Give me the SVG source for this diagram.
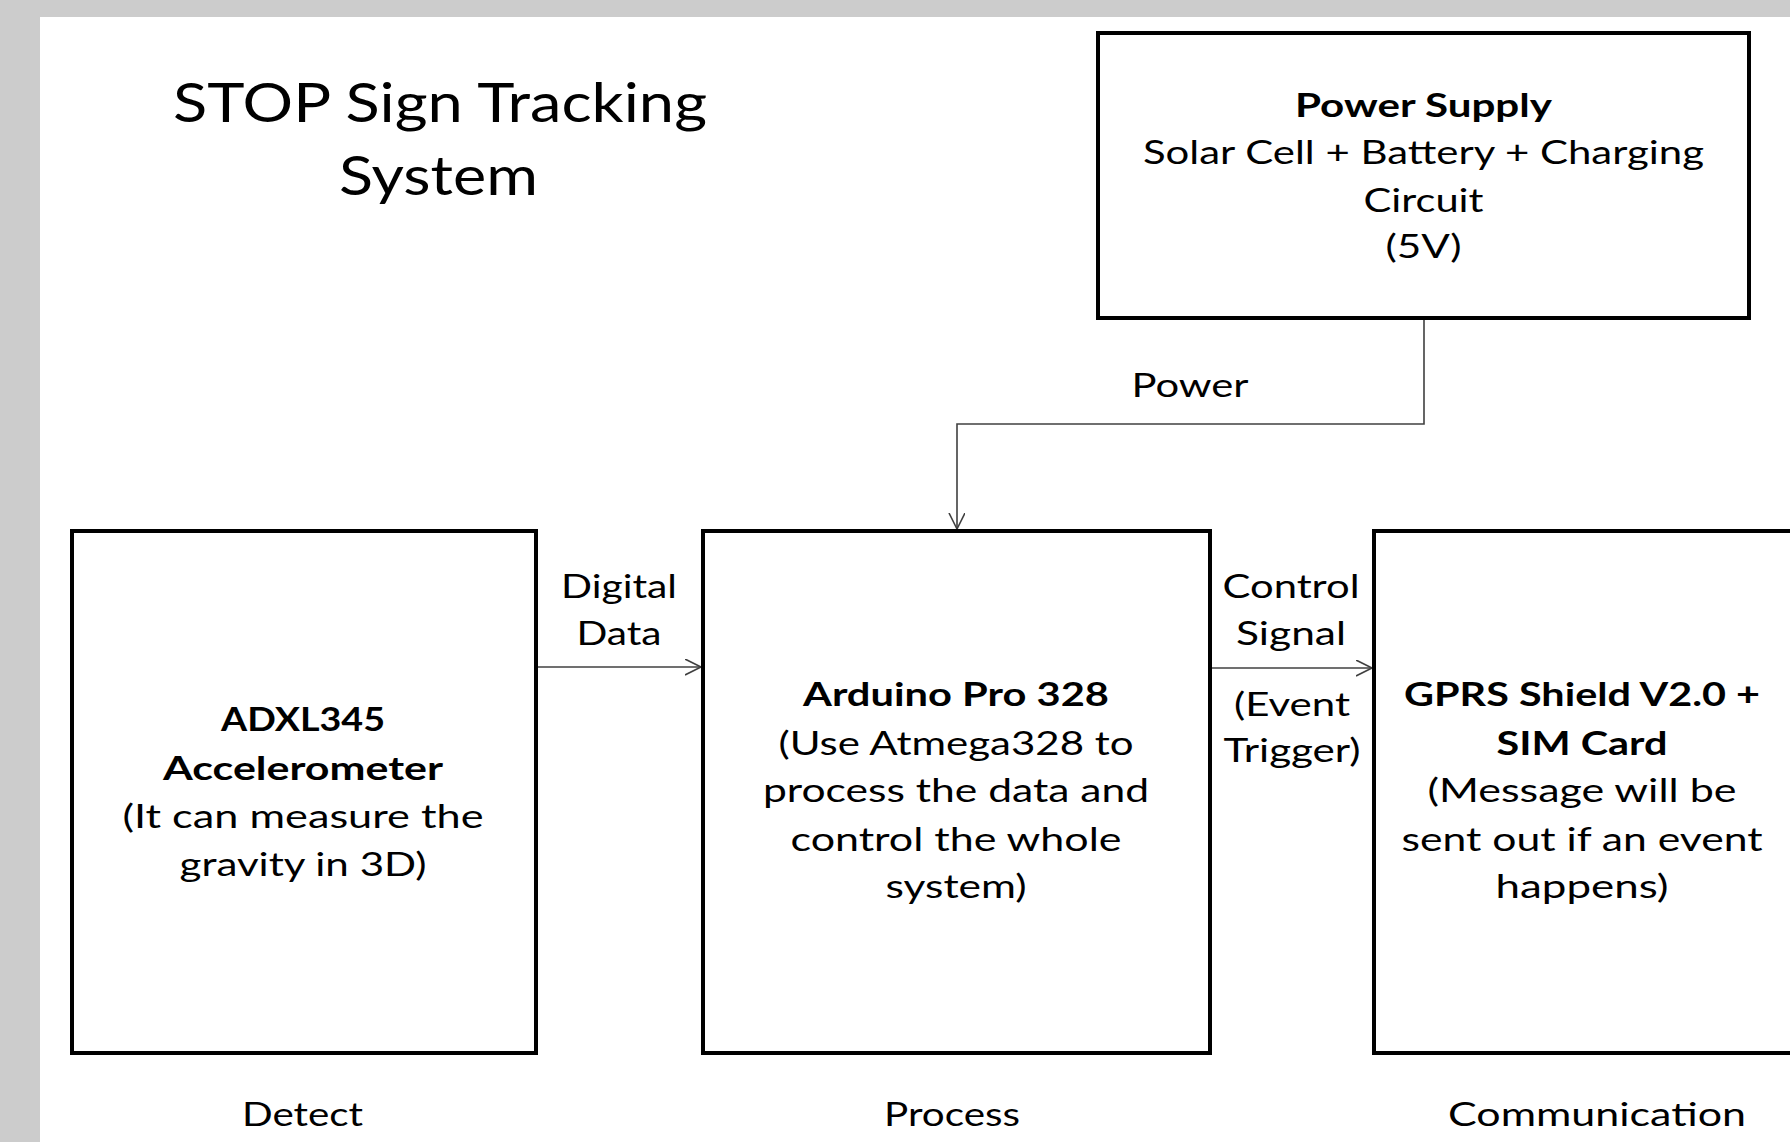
<svg xmlns="http://www.w3.org/2000/svg" width="1790" height="1142" viewBox="0 0 1790 1142">
<style>
  text { font-family: Lato, "Liberation Sans", sans-serif; fill: #000; text-anchor: middle; font-size: 33px; }
  .t { font-size: 54px; }
  .b { font-weight: bold; }
  .box { fill: #fff; stroke: #000; stroke-width: 4; }
  .conn { fill: none; stroke: #404040; stroke-width: 1.6; }
</style>
<defs>
  <marker id="arr" markerUnits="userSpaceOnUse" markerWidth="20" markerHeight="20" refX="16" refY="8" orient="auto">
    <path d="M0,0 L16,8 L0,16" fill="none" stroke="#404040" stroke-width="1.6"/>
  </marker>
</defs>
<rect x="0" y="0" width="1790" height="1142" fill="#cccccc"/>
<rect x="40" y="17" width="1750" height="1125" fill="#ffffff"/>

<g id="title">
  <text class="t" x="440" y="122" textLength="534" lengthAdjust="spacingAndGlyphs">STOP Sign Tracking</text>
  <text class="t" x="438.5" y="195" textLength="199" lengthAdjust="spacingAndGlyphs">System</text>
</g>

<g id="connectors">
  <path class="conn" d="M1424,320 V424 H957 V529" marker-end="url(#arr)"/>
  <path class="conn" d="M538,667 H701" marker-end="url(#arr)"/>
  <path class="conn" d="M1212,668 H1372" marker-end="url(#arr)"/>
  <text x="1190" y="397" textLength="117" lengthAdjust="spacingAndGlyphs">Power</text>
  <text x="619" y="598" textLength="116" lengthAdjust="spacingAndGlyphs">Digital</text>
  <text x="619" y="645" textLength="85" lengthAdjust="spacingAndGlyphs">Data</text>
  <text x="1291" y="598" textLength="137" lengthAdjust="spacingAndGlyphs">Control</text>
  <text x="1291" y="645" textLength="110" lengthAdjust="spacingAndGlyphs">Signal</text>
  <text x="1292" y="716" textLength="116" lengthAdjust="spacingAndGlyphs">(Event</text>
  <text x="1292" y="762" textLength="137" lengthAdjust="spacingAndGlyphs">Trigger)</text>
</g>

<g id="power-supply">
  <rect class="box" x="1098" y="33" width="651" height="285"/>
  <text class="b" x="1423.5" y="117" textLength="257" lengthAdjust="spacingAndGlyphs">Power Supply</text>
  <text x="1423.5" y="164" textLength="561" lengthAdjust="spacingAndGlyphs">Solar Cell + Battery + Charging</text>
  <text x="1423.5" y="212" textLength="120" lengthAdjust="spacingAndGlyphs">Circuit</text>
  <text x="1423.5" y="258" textLength="76" lengthAdjust="spacingAndGlyphs">(5V)</text>
</g>

<g id="adxl345">
  <rect class="box" x="72" y="531" width="464" height="522"/>
  <text class="b" x="303" y="731" textLength="164" lengthAdjust="spacingAndGlyphs">ADXL345</text>
  <text class="b" x="303" y="780" textLength="280" lengthAdjust="spacingAndGlyphs">Accelerometer</text>
  <text x="303" y="828" textLength="361" lengthAdjust="spacingAndGlyphs">(It can measure the</text>
  <text x="303" y="876" textLength="247" lengthAdjust="spacingAndGlyphs">gravity in 3D)</text>
</g>

<g id="arduino">
  <rect class="box" x="703" y="531" width="507" height="522"/>
  <text class="b" x="956" y="706" textLength="306" lengthAdjust="spacingAndGlyphs">Arduino Pro 328</text>
  <text x="956" y="755" textLength="355" lengthAdjust="spacingAndGlyphs">(Use Atmega328 to</text>
  <text x="956" y="802" textLength="386" lengthAdjust="spacingAndGlyphs">process the data and</text>
  <text x="956" y="851" textLength="331" lengthAdjust="spacingAndGlyphs">control the whole</text>
  <text x="956" y="898" textLength="141" lengthAdjust="spacingAndGlyphs">system)</text>
</g>

<g id="gprs">
  <rect class="box" x="1374" y="531" width="430" height="522"/>
  <text class="b" x="1582" y="706" textLength="356" lengthAdjust="spacingAndGlyphs">GPRS Shield V2.0 +</text>
  <text class="b" x="1582" y="755" textLength="171" lengthAdjust="spacingAndGlyphs">SIM Card</text>
  <text x="1582" y="802" textLength="309" lengthAdjust="spacingAndGlyphs">(Message will be</text>
  <text x="1582" y="851" textLength="361" lengthAdjust="spacingAndGlyphs">sent out if an event</text>
  <text x="1582" y="898" textLength="173" lengthAdjust="spacingAndGlyphs">happens)</text>
</g>

<g id="stage-labels">
  <text x="302.5" y="1126" textLength="121" lengthAdjust="spacingAndGlyphs">Detect</text>
  <text x="952" y="1126" textLength="136" lengthAdjust="spacingAndGlyphs">Process</text>
  <text x="1597" y="1126" textLength="298" lengthAdjust="spacingAndGlyphs">Communication</text>
</g>
</svg>
